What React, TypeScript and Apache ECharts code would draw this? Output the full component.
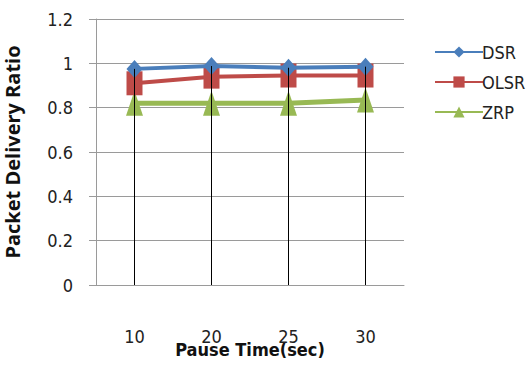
import React, { useEffect, useRef } from "react";
import * as echarts from "echarts";

const categories = ["10", "20", "25", "30"];
const dsr = [0.975, 0.988, 0.98, 0.985];
const olsr = [0.91, 0.94, 0.945, 0.945];
const zrp = [0.82, 0.82, 0.82, 0.835];
const yTicks = [0, 0.2, 0.4, 0.6, 0.8, 1, 1.2];

const FONT = "'Liberation Sans Narrow', 'DejaVu Sans Condensed', 'Open Sans', sans-serif";

export default function App() {
  const ref = useRef<HTMLDivElement>(null);
  useEffect(() => {
    if (!ref.current) return;
    const chart = echarts.init(ref.current, undefined, { renderer: "svg" });
    const tops = categories.map((_, i) => [i, Math.max(dsr[i], olsr[i], zrp[i])]);
    chart.setOption({
      animation: false,
      backgroundColor: "#fff",
      grid: { left: 96, top: 19, width: 308, height: 266, outerBoundsMode: "none", containLabel: false },
      legend: {
        orient: "vertical",
        left: 429,
        top: 38,
        itemWidth: 48,
        itemHeight: 14,
        itemGap: 12,
        textStyle: { fontFamily: FONT, fontSize: 18, color: "#222", padding: [0, 0, 0, -6] },
        data: ["DSR", "OLSR", "ZRP"],
      },
      xAxis: {
        type: "category",
        data: categories,
        boundaryGap: true,
        axisLine: { show: true, lineStyle: { color: "#9a9a9a", width: 1 } },
        axisTick: { show: false },
        axisLabel: { margin: 42, fontFamily: FONT, fontSize: 18, color: "#222" },
        splitLine: { show: false },
        name: "Pause Time(sec)",
        nameLocation: "middle",
        nameGap: 55,
        nameMoveOverlap: false,
        nameTextStyle: { fontFamily: FONT, fontSize: 18, color: "#111", fontWeight: "bold" },
      },
      yAxis: {
        type: "value",
        min: 0,
        max: 1.2,
        interval: 0.2,
        axisLine: { show: true, lineStyle: { color: "#9a9a9a", width: 1 } },
        axisTick: { show: true, length: 7, inside: false, lineStyle: { color: "#9a9a9a" } },
        axisLabel: {
          margin: 23,
          fontFamily: FONT,
          fontSize: 18,
          color: "#222",
          formatter: (v: number) => {
            const t = yTicks.find((x) => Math.abs(x - v) < 1e-6);
            return t === undefined ? "" : String(t);
          },
        },
        splitLine: { show: true, lineStyle: { color: "#9a9a9a", width: 1 } },
        name: "Packet Delivery Ratio",
        nameLocation: "middle",
        nameGap: 74,
        nameMoveOverlap: false,
        nameTextStyle: { fontFamily: "'Open Sans', 'DejaVu Sans', sans-serif", fontSize: 20, fontWeight: "bold", color: "#111" },
      },
      series: [
        {
          name: "DSR",
          type: "line",
          data: dsr,
          symbol: "diamond",
          symbolSize: [16, 18],
          lineStyle: { color: "#4a7ebb", width: 4 },
          itemStyle: { color: "#4a7ebb" },
          z: 4,
        },
        {
          name: "OLSR",
          type: "line",
          data: olsr,
          symbol: "rect",
          symbolSize: [16, 24],
          lineStyle: { color: "#be4b48", width: 4 },
          itemStyle: { color: "#be4b48" },
          z: 3,
        },
        {
          name: "ZRP",
          type: "line",
          data: zrp,
          symbol: "triangle",
          symbolSize: [17, 25],
          lineStyle: { color: "#98b954", width: 5 },
          itemStyle: { color: "#98b954" },
          z: 2,
        },
        {
          name: "drop",
          type: "custom",
          data: tops,
          z: 10,
          silent: true,
          renderItem: (params: any, api: any) => {
            const i = api.value(0);
            const top = api.coord([i, api.value(1)]);
            const bottom = api.coord([i, 0]);
            return {
              type: "line",
              shape: { x1: top[0], y1: top[1], x2: bottom[0], y2: bottom[1] },
              style: { stroke: "#000", lineWidth: 1 },
            };
          },
        },
      ],
    });
    return () => chart.dispose();
  }, []);
  return (
    <div
      ref={ref}
      style={{ position: "fixed", left: 0, top: 0, width: 529, height: 367 }}
    />
  );
}
